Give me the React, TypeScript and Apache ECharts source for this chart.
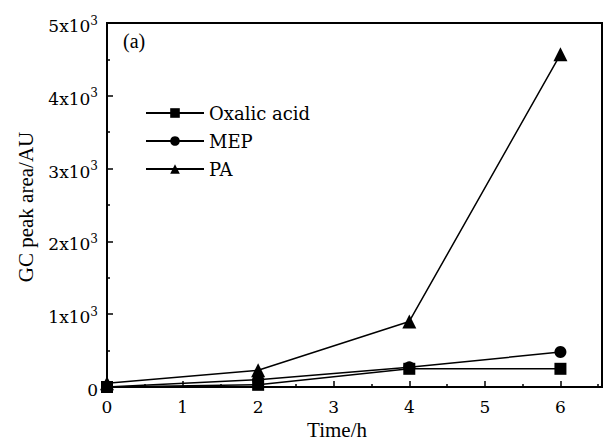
import React, { useEffect, useRef } from "react";
import * as echarts from "echarts";

const times = [0, 2, 4, 6];
const oxalicAcid = [0, 30, 250, 250];
const mep = [0, 100, 270, 480];
const pa = [50, 230, 900, 4570];
const seriesNames = ["Oxalic acid", "MEP", "PA"];
const seriesSymbols = ["rect", "circle", "triangle"];
const seriesSymbolSizes = [12, 12, 14];
const xTitle = "Time/h";
const yTitle = "GC peak area/AU";
const panelLabel = "(a)";

const serif = "DejaVu Serif";
const times2 = "Liberation Serif";

export default function App() {
  const ref = useRef<HTMLDivElement>(null);
  useEffect(() => {
    if (!ref.current) return;
    const chart = echarts.init(ref.current, undefined, { renderer: "svg" });
    const values = [oxalicAcid, mep, pa];
    chart.setOption({
      animation: false,
      backgroundColor: "#fff",
      grid: {
        left: 107,
        right: 3,
        top: 23,
        bottom: 54,
        show: true,
        borderColor: "#000",
        borderWidth: 2,
        backgroundColor: "transparent",
      },
      legend: {
        orient: "vertical",
        left: 140,
        top: 99,
        padding: 5,
        itemWidth: 58,
        itemHeight: 12,
        itemGap: 10,
        textStyle: { fontFamily: serif, fontSize: 18, color: "#000" },
        data: seriesNames,
      },
      xAxis: {
        type: "value",
        min: 0,
        max: 6.55,
        interval: 1,
        axisLine: { lineStyle: { color: "#000", width: 2 } },
        axisTick: { inside: true, length: 6, lineStyle: { color: "#000", width: 1.5 } },
        minorTick: { show: true, splitNumber: 2, length: 3, lineStyle: { color: "#000", width: 1.5 } },
        splitLine: { show: false },
        axisLabel: {
          showMaxLabel: false,
          margin: 11,
          fontFamily: serif,
          fontSize: 17,
          color: "#000",
        },
      },
      yAxis: {
        type: "value",
        min: 0,
        max: 5000,
        interval: 1000,
        axisLine: { lineStyle: { color: "#000", width: 2 } },
        axisTick: { inside: true, length: 6, lineStyle: { color: "#000", width: 1.5 } },
        minorTick: { show: true, splitNumber: 2, length: 3, lineStyle: { color: "#000", width: 1.5 } },
        splitLine: { show: false },
        axisLabel: {
          margin: 9,
          formatter: (v: number) => (v === 0 ? "{b|0}" : `{b|${v / 1000}x10}{s|3}`),
          rich: {
            b: { fontFamily: serif, fontSize: 17, lineHeight: 17, padding: [6, 0, 0, 0], color: "#000" },
            s: { fontFamily: serif, fontSize: 12, lineHeight: 12, verticalAlign: "top", color: "#000" },
          },
        },
      },
      series: seriesNames.map((name, i) => ({
        name,
        type: "line",
        data: times.map((t, j) => [t, values[i][j]]),
        symbol: seriesSymbols[i],
        symbolSize: seriesSymbolSizes[i],
        clip: false,
        lineStyle: { color: "#000", width: 1.5 },
        itemStyle: { color: "#000" },
      })),
      graphic: [
        {
          type: "text",
          left: 123,
          top: 31,
          style: { text: panelLabel, font: `20px "${times2}"`, fill: "#000" },
        },
        {
          type: "text",
          x: 337,
          y: 430,
          style: {
            text: xTitle,
            font: `21px "${times2}"`,
            fill: "#000",
            align: "center",
            verticalAlign: "middle",
          },
        },
        {
          type: "text",
          x: 26,
          y: 207,
          rotation: Math.PI / 2,
          style: {
            text: yTitle,
            font: `21px "${times2}"`,
            fill: "#000",
            align: "center",
            verticalAlign: "middle",
          },
        },
      ],
    });
    return () => chart.dispose();
  }, []);
  return <div ref={ref} style={{ width: 605, height: 441, position: "absolute", left: 0, top: 0 }} />;
}
